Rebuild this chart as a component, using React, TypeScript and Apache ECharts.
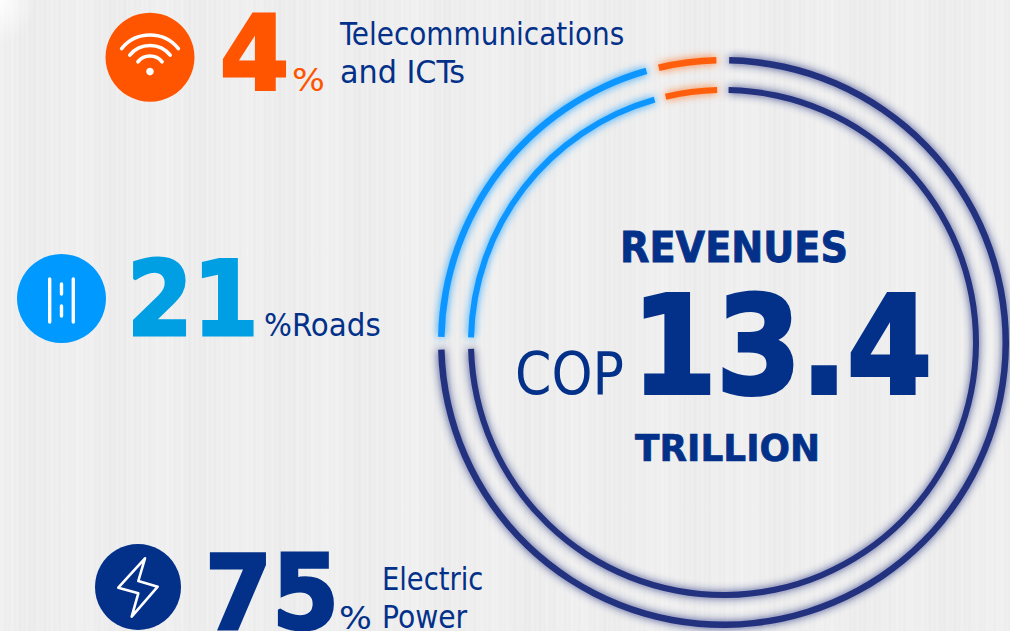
import React, { useEffect, useRef } from "react";
import * as echarts from "echarts";

const categories = ["Electric Power", "Roads", "Telecommunications and ICTs"];
const shares = [75, 21, 4];
const ringColors = ["#24317f", "#0d96ff", "#ff5f0a"];
const shadowColors = ["rgba(36,49,127,0.9)", "rgba(13,150,255,0.9)", "rgba(255,95,10,0.8)"];
const totalValue = "13.4";
const NAVY = "#03318a";
const ORANGE = "#ff5500";
const SKY = "#009fe3";
const FONT = "'DejaVu Sans Condensed', 'DejaVu Sans', sans-serif";

function txt(text: string, x: number, base: number, size: number, fill: string, bold = false, sx = 1, heavy = 0) {
  return {
    type: "text",
    x,
    y: base - size * 0.35,
    scaleX: sx,
    silent: true,
    z: 10,
    style: {
      text,
      x: 0,
      y: 0,
      fill,
      fontFamily: FONT,
      fontSize: size,
      fontWeight: bold ? "bold" : "normal",
      align: "left",
      verticalAlign: "middle",
      ...(heavy ? { stroke: fill, lineWidth: heavy } : {}),
    },
  };
}

function ring(radius: [number, number]) {
  return {
    type: "pie",
    center: [723.5, 342.5],
    radius,
    startAngle: 90.15,
    padAngle: 2.6,
    silent: true,
    label: { show: false },
    labelLine: { show: false },
    data: categories.map((name, i) => ({
      name,
      value: shares[i],
      itemStyle: {
        color: ringColors[i],
        shadowColor: shadowColors[i],
        shadowBlur: 8,
      },
    })),
  };
}

const line = (x1: number, y1: number, x2: number, y2: number) => ({
  type: "line",
  z: 11,
  silent: true,
  shape: { x1, y1, x2, y2 },
  style: { stroke: "#fff", lineWidth: 3.4, lineCap: "round" },
});
const wifiArc = (r: number) => ({
  type: "arc",
  z: 11,
  silent: true,
  shape: { cx: 150, cy: 71.5, r, startAngle: (-141 * Math.PI) / 180, endAngle: (-39 * Math.PI) / 180, clockwise: true },
  style: { stroke: "#fff", fill: "none", lineWidth: 3.6, lineCap: "round" },
});

const disc = (cx: number, cy: number, r: number, fill: string) => ({
  type: "circle",
  z: 9,
  silent: true,
  shape: { cx, cy, r },
  style: { fill },
});

export default function App() {
  const ref = useRef<HTMLDivElement>(null);
  useEffect(() => {
    document.body.style.margin = "0";
    const chart = echarts.init(ref.current!, undefined, { renderer: "svg" });
    chart.setOption({
      animation: false,
      backgroundColor: "transparent",
      series: [ring([279, 285.5]), ring([249.5, 255.5])],
      graphic: [
        disc(150, 57.2, 44.5, ORANGE),
        wifiArc(36.5),
        wifiArc(26),
        wifiArc(15.5),
        disc(150, 71.5, 3.8, "#fff"),
        txt(String(shares[2]), 220, 90, 104, ORANGE, true, 1.06, 3),
        txt("%", 292, 91, 32, ORANGE, false, 1.2),
        txt("Telecommunications", 340, 45, 32, NAVY, false, 0.97),
        txt("and ICTs", 340, 83, 32, NAVY, false, 1.05),

        disc(61.5, 298.5, 44.5, "#0099ff"),
        line(49.7, 279, 49.7, 322),
        line(73.3, 279, 73.3, 322),
        line(61.5, 284, 61.5, 294),
        line(61.5, 306, 61.5, 316),
        txt(String(shares[1]), 127, 336, 104, SKY, true, 1.01, 3),
        txt("%Roads", 264, 336.5, 32, NAVY, false, 1.02),

        disc(138, 587, 43, NAVY),
        {
          type: "polygon",
          z: 11,
          silent: true,
          shape: {
            points: [
              [145, 558.3],
              [118.3, 587.7],
              [138.3, 593.3],
              [131.7, 616.7],
              [157.7, 586.7],
              [138.3, 581],
            ],
          },
          style: { stroke: "#fff", fill: "none", lineWidth: 2.6, lineJoin: "round" },
        },
        txt(String(shares[0]), 205, 629, 104, NAVY, true, 1.03, 3),
        txt("%", 339, 629, 32, NAVY, false, 1.2),
        txt("Electric", 382, 590, 32, NAVY, false, 0.95),
        txt("Power", 382, 627.7, 32, NAVY, false, 0.98),

        txt("REVENUES", 620, 262.7, 42.5, NAVY, true, 1, 0.8),
        txt("COP", 515, 394, 58, NAVY),
        txt(totalValue, 632, 393.5, 135, NAVY, true, 1, 4),
        txt("TRILLION", 635, 460.7, 36.6, NAVY, true, 1.09, 0.6),
      ],
    });
    return () => chart.dispose();
  }, []);
  return (
    <div
      style={{
        position: "relative",
        width: 1010,
        height: 631,
        overflow: "hidden",
        backgroundColor: "#efefef",
        backgroundImage: [
          "radial-gradient(ellipse 35px 45px at 0px 0px, rgba(255,255,255,0.9), rgba(255,255,255,0))",
          "repeating-linear-gradient(90deg, rgba(255,255,255,0) 0px, rgba(255,255,255,0.22) 2px, rgba(255,255,255,0) 5px)",
          "repeating-linear-gradient(90deg, rgba(0,0,0,0) 0px, rgba(0,0,0,0.01) 7px, rgba(0,0,0,0) 13px)",
          "repeating-linear-gradient(90deg, rgba(0,0,0,0) 0px, rgba(0,0,0,0.014) 29px, rgba(0,0,0,0) 83px)",
        ].join(","),
      }}
    >
      <div ref={ref} style={{ width: 1010, height: 631 }} />
    </div>
  );
}
